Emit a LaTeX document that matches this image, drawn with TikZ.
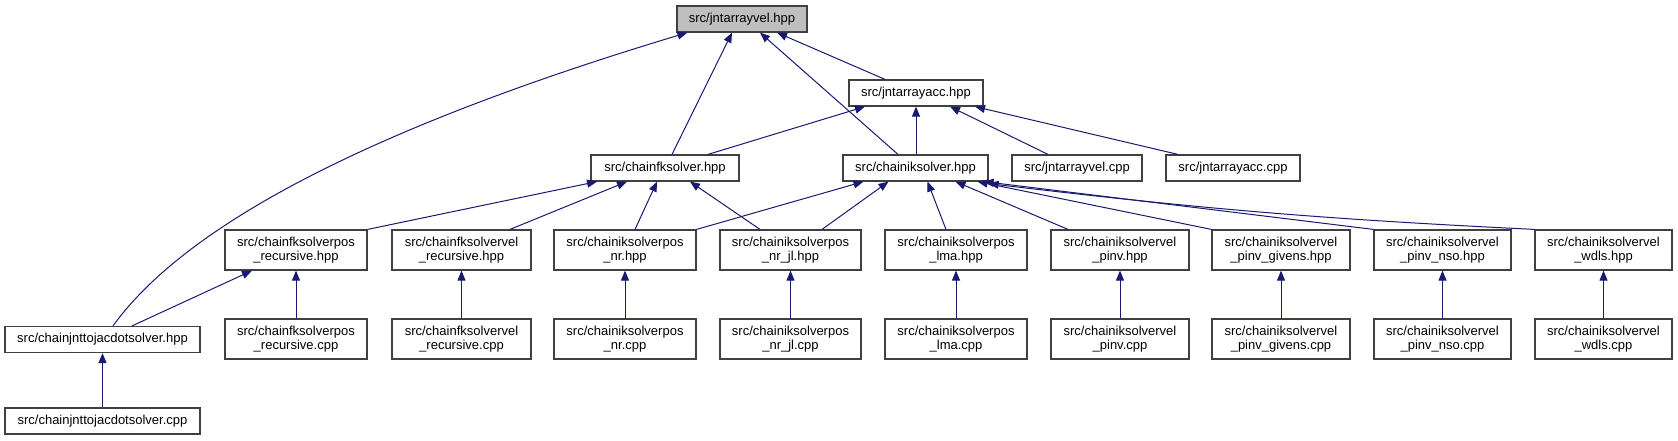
\documentclass[tikz,border=0pt]{standalone}
\usepackage{fontspec}
\setmainfont{Liberation Sans}
\usetikzlibrary{arrows.meta}
\definecolor{EdgeClr}{rgb}{0.098,0.098,0.439}
\definecolor{BorderClr}{rgb}{0.25,0.25,0.25}
\definecolor{RootClr}{rgb}{0.75,0.75,0.75}

\begin{document}
\begin{tikzpicture}[x=1pt,y=-1pt,
  file/.style={draw=BorderClr,line width=1.2pt,fill=white,inner sep=0pt,
    minimum height=26pt,align=center,font=\fontsize{13}{14.5}\selectfont},
  file2/.style={file,minimum height=40pt},
  dep/.style={draw=EdgeClr,line width=1pt,-{Triangle[length=10pt,width=8pt]}}]
\useasboundingbox (0,0) rectangle (1678,440);

\node[file,fill=RootClr,minimum width=130pt] (VelHpp) at (742,19) {src/jntarrayvel.hpp};
\node[file,minimum width=134pt] (AccHpp) at (916,93) {src/jntarrayacc.hpp};

\node[file,minimum width=148pt] (FkHpp) at (665,168) {src/chainfksolver.hpp};
\node[file,minimum width=145pt] (IkHpp) at (915.5,168) {src/chainiksolver.hpp};
\node[file,minimum width=130pt] (VelCpp) at (1077,168) {src/jntarrayvel.cpp};
\node[file,minimum width=134pt] (AccCpp) at (1233,168) {src/jntarrayacc.cpp};

\node[file2,minimum width=142pt] (FkPosHpp) at (296,250) {src/chainfksolverpos\\\_recursive.hpp};
\node[file2,minimum width=139pt] (FkVelHpp) at (461.5,250) {src/chainfksolvervel\\\_recursive.hpp};
\node[file2,minimum width=142pt] (NrHpp) at (625,250) {src/chainiksolverpos\\\_nr.hpp};
\node[file2,minimum width=141pt] (NrJlHpp) at (790.5,250) {src/chainiksolverpos\\\_nr\_jl.hpp};
\node[file2,minimum width=142pt] (LmaHpp) at (956,250) {src/chainiksolverpos\\\_lma.hpp};
\node[file2,minimum width=138pt] (PinvHpp) at (1120,250) {src/chainiksolvervel\\\_pinv.hpp};
\node[file2,minimum width=138pt] (GivensHpp) at (1281,250) {src/chainiksolvervel\\\_pinv\_givens.hpp};
\node[file2,minimum width=137pt] (NsoHpp) at (1442.5,250) {src/chainiksolvervel\\\_pinv\_nso.hpp};
\node[file2,minimum width=137pt] (WdlsHpp) at (1603.5,250) {src/chainiksolvervel\\\_wdls.hpp};

\node[file,minimum width=195pt] (JacHpp) at (102.5,339.5) {src/chainjnttojacdotsolver.hpp};
\node[file2,minimum width=142pt] (FkPosCpp) at (296,339) {src/chainfksolverpos\\\_recursive.cpp};
\node[file2,minimum width=139pt] (FkVelCpp) at (461.5,339) {src/chainfksolvervel\\\_recursive.cpp};
\node[file2,minimum width=142pt] (NrCpp) at (625,339) {src/chainiksolverpos\\\_nr.cpp};
\node[file2,minimum width=141pt] (NrJlCpp) at (790.5,339) {src/chainiksolverpos\\\_nr\_jl.cpp};
\node[file2,minimum width=142pt] (LmaCpp) at (956,339) {src/chainiksolverpos\\\_lma.cpp};
\node[file2,minimum width=138pt] (PinvCpp) at (1120,339) {src/chainiksolvervel\\\_pinv.cpp};
\node[file2,minimum width=138pt] (GivensCpp) at (1281,339) {src/chainiksolvervel\\\_pinv\_givens.cpp};
\node[file2,minimum width=137pt] (NsoCpp) at (1442.5,339) {src/chainiksolvervel\\\_pinv\_nso.cpp};
\node[file2,minimum width=137pt] (WdlsCpp) at (1603.5,339) {src/chainiksolvervel\\\_wdls.cpp};

\node[file,minimum width=195pt] (JacCpp) at (102.5,421) {src/chainjnttojacdotsolver.cpp};

\draw[dep] ([xshift=10.5pt]JacHpp.north) .. controls (175,240) and (330,140) .. ([xshift=11pt]VelHpp.south west);
\draw[dep] ([xshift=7pt]FkHpp.north) -- ([xshift=-10pt]VelHpp.south);
\draw[dep] ([xshift=-17.5pt]IkHpp.north) -- ([xshift=18pt]VelHpp.south);
\draw[dep] ([xshift=-31pt]AccHpp.north) -- ([xshift=35pt]VelHpp.south);

\draw[dep] ([xshift=43pt]FkHpp.north) -- ([xshift=-51pt]AccHpp.south);
\draw[dep] ([xshift=0.5pt]IkHpp.north) -- (AccHpp.south);
\draw[dep] ([xshift=-29pt]VelCpp.north) -- ([xshift=34pt]AccHpp.south);
\draw[dep] ([xshift=-55pt]AccCpp.north) -- ([xshift=59pt]AccHpp.south);

\draw[dep] (FkPosHpp.north east) -- ([xshift=-68pt]FkHpp.south);
\draw[dep] ([xshift=48.5pt]FkVelHpp.north) -- ([xshift=-38pt]FkHpp.south);
\draw[dep] ([xshift=10pt]NrHpp.north) -- ([xshift=-8pt]FkHpp.south);
\draw[dep] ([xshift=-30.5pt]NrJlHpp.north) -- ([xshift=25pt]FkHpp.south);
\draw[dep] ([xshift=29.5pt]JacHpp.north) -- ([xshift=-44pt]FkPosHpp.south);

\draw[dep] (NrHpp.north east) -- ([xshift=-52pt]IkHpp.south);
\draw[dep] ([xshift=31.5pt]NrJlHpp.north) -- ([xshift=-27pt]IkHpp.south);
\draw[dep] ([xshift=-10pt]LmaHpp.north) -- ([xshift=12pt]IkHpp.south);
\draw[dep] ([xshift=-52pt]PinvHpp.north) -- ([xshift=40pt]IkHpp.south);
\draw[dep] (GivensHpp.north west) -- ([xshift=-11pt]IkHpp.south east);
\draw[dep] (NsoHpp.north west) -- ([xshift=-5pt]IkHpp.south east);
\draw[dep] (WdlsHpp.north west) to[bend left=2] ([yshift=-2pt]IkHpp.south east);

\draw[dep] (FkPosCpp) -- (FkPosHpp);
\draw[dep] (FkVelCpp) -- (FkVelHpp);
\draw[dep] (NrCpp) -- (NrHpp);
\draw[dep] (NrJlCpp) -- (NrJlHpp);
\draw[dep] (LmaCpp) -- (LmaHpp);
\draw[dep] (PinvCpp) -- (PinvHpp);
\draw[dep] (GivensCpp) -- (GivensHpp);
\draw[dep] (NsoCpp) -- (NsoHpp);
\draw[dep] (WdlsCpp) -- (WdlsHpp);
\draw[dep] (JacCpp) -- (JacHpp);

\end{tikzpicture}
\end{document}
